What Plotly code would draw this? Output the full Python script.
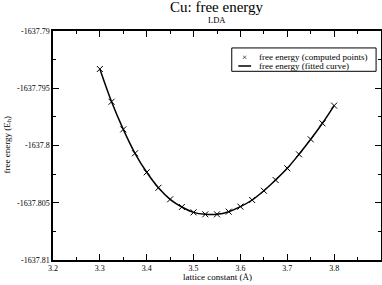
import plotly.graph_objects as go

lattice = [3.3, 3.325, 3.35, 3.375, 3.4, 3.425, 3.45, 3.475, 3.5, 3.525, 3.55,
           3.575, 3.6, 3.625, 3.65, 3.675, 3.7, 3.725, 3.75, 3.775, 3.8]
energy = [-1637.79332, -1637.79618, -1637.79859, -1637.80068, -1637.80234,
          -1637.80369, -1637.80470, -1637.80537, -1637.80584, -1637.80601,
          -1637.80601, -1637.80578, -1637.80534, -1637.80476, -1637.80395,
          -1637.80301, -1637.80199, -1637.80077, -1637.79946, -1637.79806,
          -1637.79652]

x_tickvals = [3.2, 3.3, 3.4, 3.5, 3.6, 3.7, 3.8, 3.9]
x_ticktext = ["3.2", "3.3", "3.4", "3.5", "3.6", "3.7", "3.8", ""]
y_tickvals = [-1637.81, -1637.805, -1637.8, -1637.795, -1637.79]
y_ticktext = ["-1637.81", "-1637.805", "-1637.8", "-1637.795", "-1637.79"]

legend_labels = ["free energy (computed points)", "free energy (fitted curve)"]

FONT = "'Liberation Serif', 'Times New Roman', 'DejaVu Serif', serif"

fig = go.Figure()
fig.add_trace(go.Scatter(
    x=lattice, y=energy, mode="markers",
    name=legend_labels[0],
    marker=dict(symbol="x-thin", size=6, color="black",
                line=dict(color="black", width=1)),
))
fig.add_trace(go.Scatter(
    x=lattice, y=energy, mode="lines", line_shape="spline",
    name=legend_labels[1],
    line=dict(color="black", width=1.5),
))

axis_common = dict(
    showgrid=False, zeroline=False, showline=True, linecolor="black",
    linewidth=1.5, mirror="ticks", ticks="inside", ticklen=6, tickwidth=1,
    tickcolor="black", tickfont=dict(family=FONT, size=8, color="black"),
    automargin=False,
)

# compact legend box (paper coordinates)
LEG_X0, LEG_X1, LEG_Y0, LEG_Y1 = 0.545, 0.985, 0.824, 0.926
ROW_Y = [0.8865, 0.8472]
SYM_X, TXT_X = 0.583, 0.621

fig.update_layout(
    width=382, height=285,
    margin=dict(l=53, r=1, t=31, b=25, autoexpand=False),
    paper_bgcolor="white", plot_bgcolor="white",
    font=dict(family=FONT, color="black"),
    showlegend=False,
    xaxis=dict(range=[3.2, 3.9], tickmode="array", tickvals=x_tickvals,
               ticktext=x_ticktext,
               minor=dict(ticks="inside", ticklen=3, tick0=3.25, dtick=0.1,
                          tickcolor="black"),
               **axis_common),
    yaxis=dict(range=[-1637.81, -1637.79], tickmode="array",
               tickvals=y_tickvals, ticktext=y_ticktext,
               minor=dict(ticks="inside", ticklen=3, tick0=-1637.8075,
                          dtick=0.005, tickcolor="black"),
               **axis_common),
    shapes=[
        dict(type="rect", xref="paper", yref="paper", x0=LEG_X0, x1=LEG_X1,
             y0=LEG_Y0, y1=LEG_Y1, line=dict(color="black", width=1),
             fillcolor="white", layer="above"),
        dict(type="line", xref="paper", yref="paper", x0=0.565, x1=0.604,
             y0=ROW_Y[1], y1=ROW_Y[1], line=dict(color="black", width=1.5),
             layer="above"),
    ],
    annotations=[
        dict(text="Cu: free energy", x=0.5, y=1.105, xref="paper",
             yref="paper", showarrow=False, yanchor="middle",
             font=dict(family=FONT, size=15, color="black")),
        dict(text="LDA", x=0.5, y=1.048, xref="paper", yref="paper",
             showarrow=False, yanchor="middle",
             font=dict(family=FONT, size=8.5, color="black")),
        dict(text="lattice constant (Å)", x=0.5, y=-0.074, xref="paper",
             yref="paper", showarrow=False, yanchor="middle",
             font=dict(family=FONT, size=9, color="black")),
        dict(text="free energy (E<sub>h</sub>)", x=-0.14, y=0.5,
             xref="paper", yref="paper", showarrow=False, textangle=-90,
             xanchor="center", yanchor="middle",
             font=dict(family=FONT, size=9, color="black")),
        dict(text="×", x=SYM_X, y=ROW_Y[0], xref="paper", yref="paper",
             showarrow=False, xanchor="center", yanchor="middle",
             font=dict(family=FONT, size=9, color="black")),
        dict(text=legend_labels[0], x=TXT_X, y=ROW_Y[0], xref="paper",
             yref="paper", showarrow=False, xanchor="left",
             yanchor="middle",
             font=dict(family=FONT, size=9, color="black")),
        dict(text=legend_labels[1], x=TXT_X, y=ROW_Y[1], xref="paper",
             yref="paper", showarrow=False, xanchor="left",
             yanchor="middle",
             font=dict(family=FONT, size=9, color="black")),
    ],
)

fig.write_html("out.html",
               config={"displayModeBar": False},
               post_script="document.body.style.margin='0';"
                           "document.body.style.overflow='hidden';")
